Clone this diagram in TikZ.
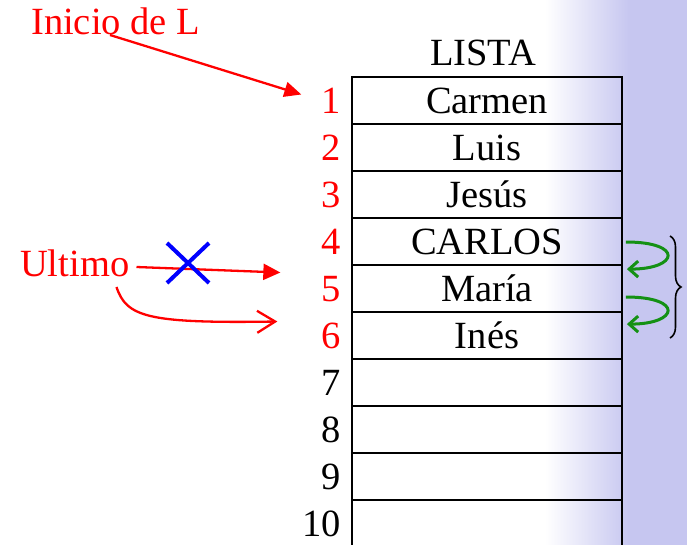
\documentclass[tikz,border=0pt]{standalone}
\usepackage{fontspec}
\setmainfont{Liberation Serif}
\usetikzlibrary{arrows.meta,calc,decorations.pathreplacing}
\definecolor{lav}{RGB}{198,198,240}
\definecolor{grn}{RGB}{20,145,20}
\begin{document}
\begin{tikzpicture}[x=1pt,y=-1pt,
  cell/.style={draw=black,line width=1.8pt,minimum width=270pt,minimum height=47pt,
    inner sep=0pt,text height=25.4pt,text depth=0pt,font=\fontsize{38.5}{41}\selectfont},
  num/.style={anchor=east,inner sep=0pt,text height=25.4pt,text depth=0pt,font=\fontsize{38.5}{41}\selectfont},
  lbl/.style={inner sep=0pt,text=red,font=\fontsize{38.5}{41}\selectfont},
  redarrow/.style={draw=red,line width=2.3pt},
  grnarrow/.style={draw=grn,line width=3pt,-{Straight Barb[length=9pt,width=16pt,line width=3pt]}}]
\useasboundingbox (0,0) rectangle (687,545);
\fill[white] (0,0) rectangle (687,545);
\shade[left color=white,right color=lav] (545,0) rectangle (630,545);
\fill[lav] (630,0) rectangle (687,545);
% table
\node[cell] (r1) at (487,100.5) {Carmen};
\node[cell] (r2) at (487,147.5) {Luis};
\node[cell] (r3) at (487,194.5) {Jesús};
\node[cell] (r4) at (487,241.5) {CARLOS};
\node[cell] (r5) at (487,288.5) {María};
\node[cell] (r6) at (487,335.5) {Inés};
\node[cell] (r7) at (487,382.5) {};
\node[cell] (r8) at (487,429.5) {};
\node[cell] (r9) at (487,476.5) {};
\node[cell] (r10) at (487,523.5) {};
\node[num,anchor=center] (lista) at (483,53) {LISTA};
% numbers
\node[num,text=red] (n1) at (341,100.5) {1};
\node[num,text=red] (n2) at (341,147.5) {2};
\node[num,text=red] (n3) at (341,194.5) {3};
\node[num,text=red] (n4) at (341,241.5) {4};
\node[num,text=red] (n5) at (341,288.5) {5};
\node[num,text=red] (n6) at (341,335.5) {6};
\node[num] (n7) at (341,382.5) {7};
\node[num] (n8) at (341,429.5) {8};
\node[num] (n9) at (341,476.5) {9};
\node[num] (n10) at (341,523.5) {10};
% labels
\node[lbl,anchor=base west] (inicio) at (31,35) {Inicio de L};
\node[lbl,anchor=base west] (ultimo) at (20,276) {Ultimo};
% arrows
\coordinate (iniS) at ($(inicio.base west)+(79,0)$);
\coordinate (iniE) at ($(n1.west)+(-20,-6)$);
\draw[redarrow,-{Triangle[length=17pt,width=15pt]}] (iniS) -- (iniE);
\coordinate (ultS) at ($(ultimo.base east)+(7,-9)$);
\coordinate (ultE) at ($(n5.west)+(-41,-16)$);
\draw[redarrow,-{Triangle[length=17pt,width=16pt]}] (ultS) -- (ultE);
\coordinate (curS) at ($(ultimo.base east)+(-13,11)$);
\coordinate (curE) at ($(n6.west)+(-44,-14)$);
\draw[redarrow,-{Straight Barb[length=18pt,width=22pt,line width=2.3pt]}] (curS) .. controls +(10,30) and +(-130,2) .. (curE);
% blue cross
\coordinate (xc) at (188,263);
\draw[blue,line width=4pt] ($(xc)+(-21,-20)$) -- ($(xc)+(21,20)$)
  ($(xc)+(-21,20)$) -- ($(xc)+(21,-20)$);
% green arrows
\coordinate (g1s) at ($(r4.east)+(3,0.5)$);
\coordinate (g1e) at ($(r5.north east)+(4,5)$);
\draw[grnarrow] (g1s) .. controls +(58,0) and +(52,0) .. (g1e);
\coordinate (g2s) at ($(r5.east)+(3,8.5)$);
\coordinate (g2e) at ($(r6.north east)+(4,13)$);
\draw[grnarrow] (g2s) .. controls +(58,0) and +(52,0) .. (g2e);
% brace
\coordinate (bt) at (670,236);
\coordinate (bb) at (670,338);
\draw[black,line width=1.6pt,decorate,decoration={brace,amplitude=11pt}] (bt) -- (bb);
\end{tikzpicture}
\end{document}
